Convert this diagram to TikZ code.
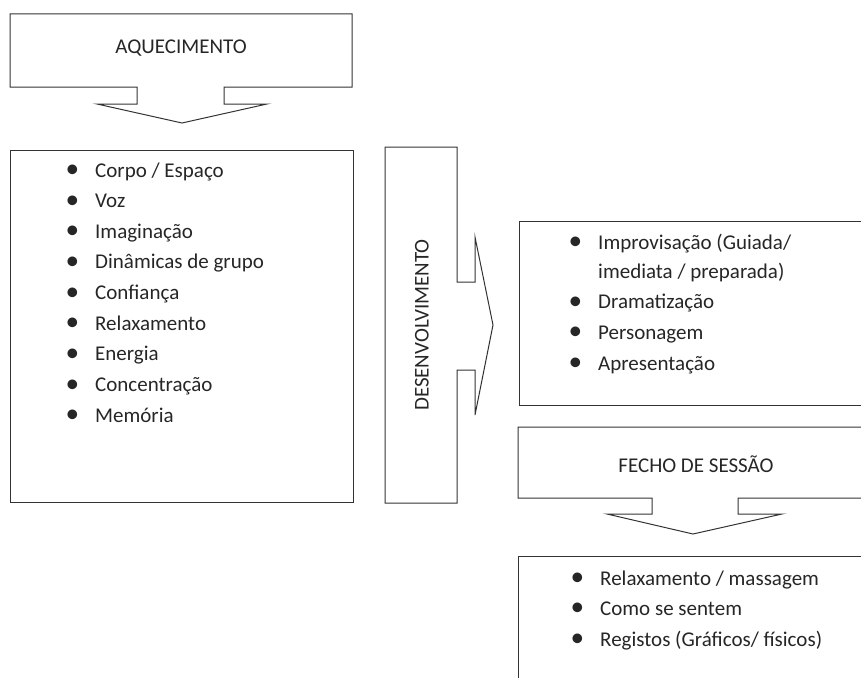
\documentclass[tikz,border=0pt]{standalone}
\usepackage{fontspec}
\setmainfont{Carlito}
\usetikzlibrary{positioning}
\newcommand{\blt}{\makebox[28pt][l]{\hspace{-1.5pt}\raisebox{-0.5pt}{\scalebox{1.3}{\textbullet}}}}

\begin{document}
\begin{tikzpicture}[x=1pt,y=-1pt]
\tikzstyle{outline}=[draw=black!80, line width=1pt, line join=miter]
\tikzstyle{title}=[font=\fontsize{21}{25}\selectfont, text=black!85, inner sep=0pt]
\tikzstyle{item}=[anchor=west, font=\fontsize{21}{25}\selectfont, text=black!85, inner sep=0pt, text height=14pt, text depth=4pt]
\useasboundingbox (0,0) rectangle (861,677);
  % callout shapes
  \draw[outline] (10,14) -- (352,14) -- (352,87) -- (224,87) -- (224,104) -- (267,104) -- (182,123)
        -- (97,104) -- (137,104) -- (137,87) -- (10,87) -- cycle;
  \draw[outline] (10,150) rectangle (353,502);
  \draw[outline] (385,147) -- (457,147) -- (457,282) -- (475,282) -- (475,237) -- (493,325)
        -- (475,415) -- (475,370) -- (457,370) -- (457,503) -- (385,503) -- cycle;
  \draw[outline] (519,221) rectangle (880,405);
  \draw[outline] (518,427) -- (880,427) -- (880,498) -- (738,498) -- (738,514) -- (782,514) -- (693,534)
        -- (607,514) -- (652,514) -- (652,498) -- (518,498) -- cycle;
  \draw[outline] (518,556) rectangle (880,700);
  % titles
  \node[title] (Aquec) at (181,48) {AQUECIMENTO};
  \node[title, rotate=90] (Desenv) at (422,325) {DESENVOLVIMENTO};
  \node[title] (Fecho) at (696,464) {FECHO DE SESSÃO};
  % aquecimento list
  \node[item] (A1) at (67,172) {\blt Corpo / Espaço};
  \node[item] (A2) [below=12.25pt of A1.south west, anchor=north west] {\blt Voz};
  \node[item] (A3) [below=12.25pt of A2.south west, anchor=north west] {\blt Imaginação};
  \node[item] (A4) [below=12.25pt of A3.south west, anchor=north west] {\blt Dinâmicas de grupo};
  \node[item] (A5) [below=12.25pt of A4.south west, anchor=north west] {\blt Confiança};
  \node[item] (A6) [below=12.25pt of A5.south west, anchor=north west] {\blt Relaxamento};
  \node[item] (A7) [below=12.25pt of A6.south west, anchor=north west] {\blt Energia};
  \node[item] (A8) [below=12.25pt of A7.south west, anchor=north west] {\blt Concentração};
  \node[item] (A9) [below=12.25pt of A8.south west, anchor=north west] {\blt Memória};
  % desenvolvimento list
  \node[item] (D1) at (570,244) {\blt Improvisação (Guiada/};
  \node[item] (D1b) [below=11pt of D1.south west, anchor=north west, xshift=28pt] {imediata / preparada)};
  \node[item] (D2) [below=12pt of D1b.south west, anchor=north west, xshift=-28pt] {\blt Dramatização};
  \node[item] (D3) [below=12pt of D2.south west, anchor=north west] {\blt Personagem};
  \node[item] (D4) [below=12.5pt of D3.south west, anchor=north west] {\blt Apresentação};
  % fecho list
  \node[item] (F1) at (572,580) {\blt Relaxamento / massagem};
  \node[item] (F2) [below=12pt of F1.south west, anchor=north west] {\blt Como se sentem};
  \node[item] (F3) [below=12.5pt of F2.south west, anchor=north west] {\blt Registos (Gráficos/ físicos)};
\end{tikzpicture}
\end{document}
